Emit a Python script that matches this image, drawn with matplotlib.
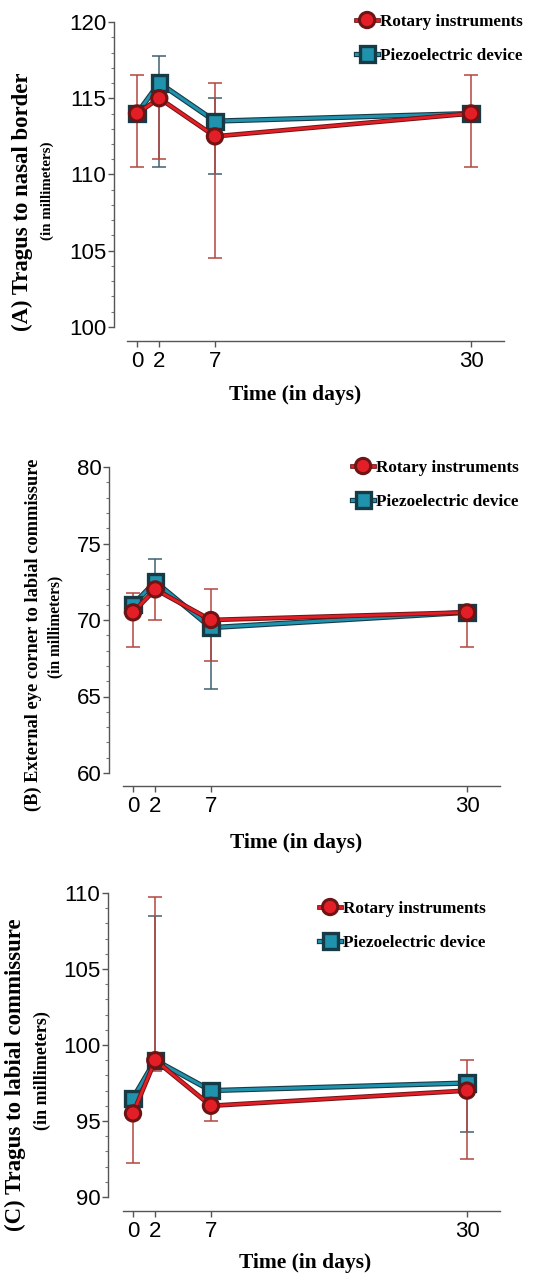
import numpy as np
import matplotlib
matplotlib.use("Agg")
import matplotlib.pyplot as plt
import matplotlib.patheffects as pe
from matplotlib.ticker import MultipleLocator

W, H = 555, 1276

days = [0, 2, 7, 30]

# (A) tragus to nasal border
rot_A = [114, 115, 112.5, 114]
rot_A_lo = [110.5, 111, 104.5, 110.5]
rot_A_hi = [116.5, 116, 116, 116.5]
pie_A = [114, 116, 113.5, 114]
pie_A_lo = [114, 110.5, 110, 114]
pie_A_hi = [114, 117.8, 115, 114]

# (B) external eye corner to labial commissure
rot_B = [70.5, 72, 70, 70.5]
rot_B_lo = [68.25, 70, 67.3, 68.25]
rot_B_hi = [71.75, 72, 72, 71]
pie_B = [71, 72.5, 69.5, 70.5]
pie_B_lo = [71, 72.5, 65.5, 70.5]
pie_B_hi = [71, 74, 70, 70.9]

# (C) tragus to labial commissure
rot_C = [95.5, 99, 96, 97]
rot_C_lo = [92.25, 98.3, 95, 92.5]
rot_C_hi = [97, 109.75, 96.5, 99]
pie_C = [96.5, 99, 97, 97.5]
pie_C_lo = [96.5, 98.5, 96.6, 94.25]
pie_C_hi = [96.5, 108.5, 97, 97.5]

RED = "#e41e26"
RED_EDGE = "#6e1414"
RED_BAR = "#b3463e"
TEAL = "#1f93ad"
TEAL_EDGE = "#163a46"
TEAL_BAR = "#3c6270"

SANS = "Liberation Sans"
SERIF = "Liberation Serif"

fig = plt.figure(figsize=(W / 100, H / 100), dpi=100)


def panel(spine_x, x0, x30, y_top, y_bot, xaxis_y, xl, xr, ymin, ymax,
          rot, rot_lo, rot_hi, pie, pie_lo, pie_hi,
          ylab, ylab_size, ylab_xy, sub_size, sub_xy, xlab_xy, leg_xy):
    ux = (x30 - x0) / 30.0
    uy = (y_bot - y_top) / (ymax - ymin)
    ax = fig.add_axes([spine_x / W, 1 - xaxis_y / H, (xr - spine_x) / W, (xaxis_y - y_top) / H])
    ax.set_xlim((spine_x - x0) / ux, (xr - x0) / ux)
    ax.set_ylim(ymin - (xaxis_y - y_bot) / uy, ymax)

    # error bars
    r = np.array(rot)
    p = np.array(pie)
    ax.errorbar(days, p, yerr=[p - np.array(pie_lo), np.array(pie_hi) - p], fmt="none",
                ecolor=TEAL_BAR, elinewidth=1.1, capsize=5, capthick=1.1, zorder=1)
    ax.errorbar(days, r, yerr=[r - np.array(rot_lo), np.array(rot_hi) - r], fmt="none",
                ecolor=RED_BAR, elinewidth=1.1, capsize=5, capthick=1.1, zorder=1)

    lp, = ax.plot(days, pie, color=TEAL, lw=2.2, marker="s", ms=9.5, mfc=TEAL,
                  mec=TEAL_EDGE, mew=1.0, zorder=3, label="Piezoelectric device",
                  path_effects=[pe.Stroke(linewidth=3.8, foreground=TEAL_EDGE), pe.Normal()])
    lr, = ax.plot(days, rot, color=RED, lw=2.0, marker="o", ms=9.8, mfc=RED,
                  mec=RED_EDGE, mew=1.0, zorder=4, label="Rotary instruments",
                  path_effects=[pe.Stroke(linewidth=3.4, foreground=RED_EDGE), pe.Normal()])

    for s in ["top", "right"]:
        ax.spines[s].set_visible(False)
    for s in ["left", "bottom"]:
        ax.spines[s].set_color("#555555")
        ax.spines[s].set_linewidth(1.0)
    ax.spines["left"].set_bounds(ymin, ymax)
    ax.spines["bottom"].set_bounds((xl - x0) / ux, (xr - x0) / ux)

    ax.set_xticks(days)
    ax.set_yticks(np.arange(ymin, ymax + 1, 5))
    ax.yaxis.set_minor_locator(MultipleLocator(1))
    ax.tick_params(axis="y", which="major", length=4, width=1, color="#555555", pad=1.5,
                   labelsize=16)
    ax.tick_params(axis="y", which="minor", length=2.5, width=0.8, color="#777777")
    ax.tick_params(axis="x", which="major", length=4.5, width=1, color="#555555", pad=3,
                   labelsize=16)
    for t in ax.get_xticklabels() + ax.get_yticklabels():
        t.set_fontfamily(SANS)

    fig.text(xlab_xy[0] / W, 1 - xlab_xy[1] / H, "Time (in days)", family=SERIF,
             weight="bold", size=15.5, ha="center", va="center")
    fig.text(ylab_xy[0] / W, 1 - ylab_xy[1] / H, ylab, family=SERIF, weight="bold",
             size=ylab_size, rotation=90, ha="center", va="center")
    fig.text(sub_xy[0] / W, 1 - sub_xy[1] / H, "(in millimeters)", family=SERIF,
             weight="bold", size=sub_size, rotation=90, ha="center", va="center")

    ax.legend(handles=[lr, lp], loc="upper left", frameon=False, borderpad=0,
              borderaxespad=0, handlelength=1.3, handletextpad=0.12, labelspacing=1.05,
              bbox_to_anchor=(leg_xy[0] / W, 1 - leg_xy[1] / H),
              bbox_transform=fig.transFigure,
              prop={"family": SERIF, "weight": "bold", "size": 12.3})
    return ax


panel(114, 137, 471, 22, 327, 341, 127, 504, 100, 120,
      rot_A, rot_A_lo, rot_A_hi, pie_A, pie_A_lo, pie_A_hi,
      "(A) Tragus to nasal border", 16.4, (22, 202), 10.8, (47, 191), (295, 395), (356, 14))

panel(109, 133, 467, 467, 773, 786, 123, 500, 60, 80,
      rot_B, rot_B_lo, rot_B_hi, pie_B, pie_B_lo, pie_B_hi,
      "(B) External eye corner to labial commissure", 13.2, (33, 635), 11.2, (55, 627),
      (296, 843), (352, 460))

panel(108, 133, 467, 893, 1197, 1211, 123, 500, 90, 110,
      rot_C, rot_C_lo, rot_C_hi, pie_C, pie_C_lo, pie_C_hi,
      "(C) Tragus to labial commissure", 16.5, (15, 1075), 13, (42, 1071),
      (305, 1263), (319, 901))

fig.savefig("out.png", dpi=100)
